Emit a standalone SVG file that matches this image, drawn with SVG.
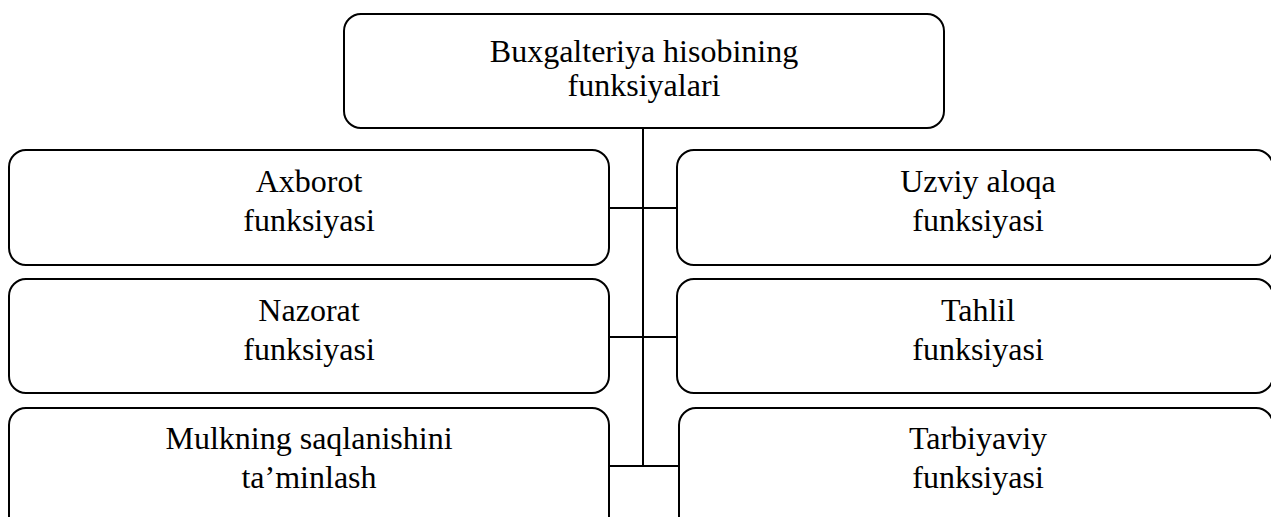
<svg xmlns="http://www.w3.org/2000/svg" width="1271" height="517" viewBox="0 0 1271 517">
<style>
.box{fill:#fff;stroke:#000;stroke-width:2}
.t{font-family:"Liberation Serif","Times New Roman",serif;font-size:32px;fill:#000;text-anchor:middle}
.c{stroke:#000;stroke-width:2;fill:none}
</style>
<rect width="1271" height="517" fill="#fff"/>
<g id="connectors">
<line class="c" x1="643" y1="128" x2="643" y2="466"/>
<line class="c" x1="609" y1="208" x2="677" y2="208"/>
<line class="c" x1="609" y1="337" x2="677" y2="337"/>
<line class="c" x1="609" y1="466" x2="679" y2="466"/>
</g>
<g id="top">
<rect class="box" x="344" y="14" width="600" height="114" rx="17"/>
<text class="t" x="644" y="62">Buxgalteriya hisobining</text>
<text class="t" x="644" y="96">funksiyalari</text>
</g>
<g id="axborot">
<rect class="box" x="9" y="150" width="600" height="115" rx="17"/>
<text class="t" x="309" y="192">Axborot</text>
<text class="t" x="309" y="231">funksiyasi</text>
</g>
<g id="uzviy">
<rect class="box" x="677" y="150" width="596" height="115" rx="17"/>
<text class="t" x="978" y="192">Uzviy aloqa</text>
<text class="t" x="978" y="231">funksiyasi</text>
</g>
<g id="nazorat">
<rect class="box" x="9" y="279" width="600" height="114" rx="17"/>
<text class="t" x="309" y="321">Nazorat</text>
<text class="t" x="309" y="360">funksiyasi</text>
</g>
<g id="tahlil">
<rect class="box" x="677" y="279" width="596" height="114" rx="17"/>
<text class="t" x="978" y="321">Tahlil</text>
<text class="t" x="978" y="360">funksiyasi</text>
</g>
<g id="mulk">
<rect class="box" x="9" y="408" width="600" height="130" rx="17"/>
<text class="t" x="309" y="449">Mulkning saqlanishini</text>
<text class="t" x="309" y="488">ta’minlash</text>
</g>
<g id="tarbiya">
<rect class="box" x="679" y="408" width="594" height="130" rx="17"/>
<text class="t" x="978" y="449">Tarbiyaviy</text>
<text class="t" x="978" y="488">funksiyasi</text>
</g>
</svg>
